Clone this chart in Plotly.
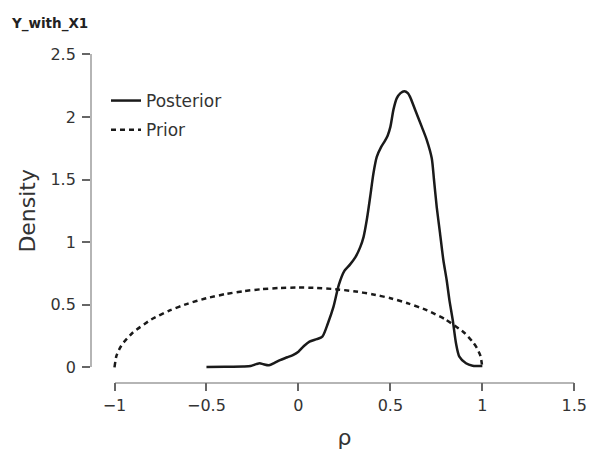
import plotly.graph_objects as go

# ---------------- data ----------------
chart_title = "Y_with_X1"
x_title = "ρ"
y_title = "Density"

x_tick_vals = [-1, -0.5, 0, 0.5, 1, 1.5]
x_tick_text = ["\u22121", "\u22120.5", "0", "0.5", "1", "1.5"]
y_tick_vals = [0, 0.5, 1, 1.5, 2, 2.5]
y_tick_text = ["0\u2009", "0.5\u2009", "1\u2009", "1.5\u2009", "2\u2009", "2.5\u2009"]

posterior_x = [-0.50, -0.40, -0.30, -0.26, -0.23, -0.21, -0.19, -0.16, -0.13, -0.10,
               -0.06, -0.03, 0.00, 0.03, 0.06, 0.10, 0.13, 0.16, 0.19, 0.22,
               0.25, 0.28, 0.31, 0.336, 0.354, 0.372, 0.39, 0.408, 0.426, 0.45,
               0.471, 0.485, 0.50, 0.517, 0.535, 0.555, 0.576, 0.595, 0.607, 0.635,
               0.671, 0.698, 0.725, 0.737, 0.752, 0.77, 0.788, 0.806, 0.821, 0.839,
               0.857, 0.875, 0.911, 0.947, 1.00]
posterior_y = [0.003, 0.004, 0.006, 0.010, 0.025, 0.032, 0.024, 0.016, 0.035, 0.058,
               0.080, 0.098, 0.125, 0.170, 0.205, 0.225, 0.245, 0.35, 0.48, 0.66,
               0.77, 0.82, 0.88, 0.96, 1.04, 1.18, 1.36, 1.55, 1.68, 1.76,
               1.81, 1.85, 1.92, 2.06, 2.15, 2.19, 2.205, 2.19, 2.16, 2.055,
               1.92, 1.815, 1.67, 1.50, 1.28, 1.07, 0.857, 0.697, 0.537, 0.378,
               0.19, 0.085, 0.032, 0.013, 0.010]

prior_x = [-1.00, -0.99, -0.97, -0.95, -0.90, -0.80, -0.70, -0.60, -0.50, -0.40,
           -0.30, -0.20, -0.10, 0.00, 0.10, 0.20, 0.30, 0.40, 0.50, 0.60,
           0.70, 0.80, 0.90, 0.95, 0.97, 0.99, 1.00]
prior_y = [0.000, 0.090, 0.155, 0.199, 0.278, 0.382, 0.455, 0.509, 0.552, 0.584,
           0.608, 0.624, 0.634, 0.637, 0.634, 0.624, 0.608, 0.584, 0.552, 0.509,
           0.455, 0.382, 0.278, 0.199, 0.155, 0.090, 0.000]

# ---------------- layout geometry (pixels) ----------------
W, H = 602, 458
X_MIN, X_MAX = -1.0, 1.5
Y_MIN, Y_MAX = 0.0, 2.5
PX_XMIN, PX_XMAX = 114.5, 574.3      # pixel x of X_MIN / X_MAX
PY_YMIN, PY_YMAX = 367.3, 54.3       # pixel y of Y_MIN / Y_MAX
YAXIS_LINE_PX = 91.0
XAXIS_LINE_PY = 382.7
PADX, PADY = 0.1, 0.1                # extra data range for the (hidden) data axes

sx = (PX_XMAX - PX_XMIN) / (X_MAX - X_MIN)
sy = (PY_YMIN - PY_YMAX) / (Y_MAX - Y_MIN)

def fx(px):
    return px / W

def fy(py):
    return 1 - py / H

data_x_dom = [fx(PX_XMIN - PADX * sx), fx(PX_XMAX + PADX * sx)]
data_y_dom = [fy(PY_YMIN + PADY * sy), fy(PY_YMAX - PADY * sy)]

FONT = "DejaVu Sans"
TXT = "#333333"
LINE = "#1a1a1a"

fig = go.Figure()
# anchor trace for the visible-axes subplot (drawn first)
fig.add_trace(go.Scatter(x=[None], y=[None], xaxis="x2", yaxis="y2",
                         showlegend=False, hoverinfo="skip"))
fig.add_trace(go.Scatter(
    x=posterior_x, y=posterior_y, mode="lines", name="Posterior",
    line=dict(color=LINE, width=2.5, shape="spline", smoothing=0.7),
    legendgroup="a", xaxis="x", yaxis="y"))
fig.add_trace(go.Scatter(
    x=prior_x, y=prior_y, mode="lines", name="Prior",
    line=dict(color=LINE, width=2.5, dash="5px,4px", shape="spline", smoothing=0.5),
    legendgroup="b", xaxis="x", yaxis="y"))

axis_common = dict(showgrid=False, zeroline=False, showline=True,
                   linecolor="#b5b5b5", linewidth=1.5,
                   ticks="outside", ticklen=8, tickwidth=1.5, tickcolor="#666666",
                   tickfont=dict(family=FONT, size=16, color=TXT),
                   fixedrange=True, automargin=False)

fig.update_layout(
    width=W, height=H,
    margin=dict(l=0, r=0, t=0, b=0, autoexpand=False),
    paper_bgcolor="white", plot_bgcolor="rgba(0,0,0,0)",
    font=dict(family=FONT, color=TXT),
    showlegend=True,
    legend=dict(x=fx(106), y=fy(83), xanchor="left", yanchor="top",
                font=dict(family=FONT, size=17, color=TXT),
                bgcolor="rgba(0,0,0,0)", tracegroupgap=4, traceorder="grouped"),
    title=dict(text=chart_title, x=fx(12), y=fy(23), xref="paper", yref="paper",
               xanchor="left", yanchor="middle", automargin=False,
               font=dict(family=FONT, size=13.5, color="#222222", weight="bold")),
    xaxis=dict(domain=data_x_dom, range=[X_MIN - PADX, X_MAX + PADX],
               visible=False, fixedrange=True, anchor="y", automargin=False),
    yaxis=dict(domain=data_y_dom, range=[Y_MIN - PADY, Y_MAX + PADY],
               visible=False, fixedrange=True, anchor="x", automargin=False),
    xaxis2=dict(domain=[fx(PX_XMIN), fx(PX_XMAX)], range=[X_MIN, X_MAX],
                anchor="free", position=fy(XAXIS_LINE_PY),
                tickvals=x_tick_vals, ticktext=x_tick_text,
                title=dict(text=x_title, font=dict(family=FONT, size=22, color=TXT),
                           standoff=15),
                **axis_common),
    yaxis2=dict(domain=[fy(PY_YMIN), fy(PY_YMAX)], range=[Y_MIN, Y_MAX],
                anchor="free", position=fx(YAXIS_LINE_PX),
                tickvals=y_tick_vals, ticktext=y_tick_text,
                title=dict(text=y_title, font=dict(family=FONT, size=22, color=TXT),
                           standoff=8),
                **axis_common),
)

fig.write_html("out.html")
